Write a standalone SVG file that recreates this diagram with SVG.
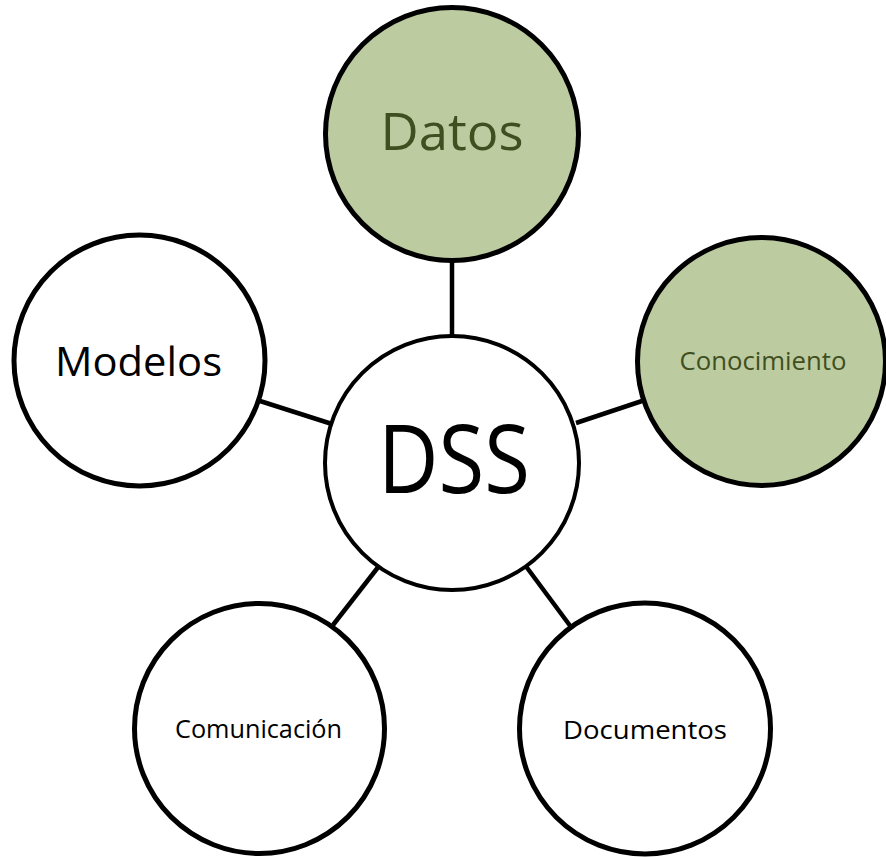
<svg xmlns="http://www.w3.org/2000/svg" width="886" height="857" viewBox="0 0 886 857">
  <style>
    .node { stroke: #000; stroke-width: 5; fill: #fff; }
    .green { fill: #bdcba0; }
    .hub { stroke-width: 4; }
    .label { font-family: "Open Sans", "Liberation Sans", sans-serif; text-anchor: middle; fill: #000; }
    .dark { fill: #3f4f20; }
    .link { stroke: #000; stroke-width: 4.5; fill: none; }
  </style>
  <rect width="886" height="857" fill="#fff"/>
  <g id="connectors">
    <line class="link" x1="452" y1="258" x2="452" y2="336"/>
    <line class="link" x1="260" y1="401" x2="332" y2="424"/>
    <line class="link" x1="576" y1="423" x2="642" y2="401"/>
    <line class="link" x1="333" y1="625" x2="379" y2="566"/>
    <line class="link" x1="571" y1="627" x2="525" y2="565"/>
  </g>
  <g id="datos">
    <circle class="node green" cx="452" cy="134" r="126.5"/>
    <text class="label dark" x="452" y="150" font-size="52" textLength="143" lengthAdjust="spacingAndGlyphs">Datos</text>
  </g>
  <g id="conocimiento">
    <circle class="node green" cx="761.5" cy="361.5" r="124"/>
    <text class="label dark" x="763" y="370" font-size="25" textLength="167" lengthAdjust="spacingAndGlyphs">Conocimiento</text>
  </g>
  <g id="modelos">
    <circle class="node" cx="139.5" cy="360.5" r="125.5"/>
    <text class="label" x="138.5" y="376" font-size="41" textLength="167" lengthAdjust="spacingAndGlyphs">Modelos</text>
  </g>
  <g id="dss">
    <circle class="node hub" cx="452" cy="463" r="127"/>
    <text class="label" x="454" y="493" font-size="95" textLength="152" lengthAdjust="spacingAndGlyphs">DSS</text>
  </g>
  <g id="comunicacion">
    <circle class="node" cx="259.5" cy="728.5" r="125"/>
    <text class="label" x="258.5" y="738" font-size="25" textLength="167" lengthAdjust="spacingAndGlyphs">Comunicación</text>
  </g>
  <g id="documentos">
    <circle class="node" cx="645" cy="728.5" r="125.5"/>
    <text class="label" x="645" y="739" font-size="25" textLength="164" lengthAdjust="spacingAndGlyphs">Documentos</text>
  </g>
</svg>
